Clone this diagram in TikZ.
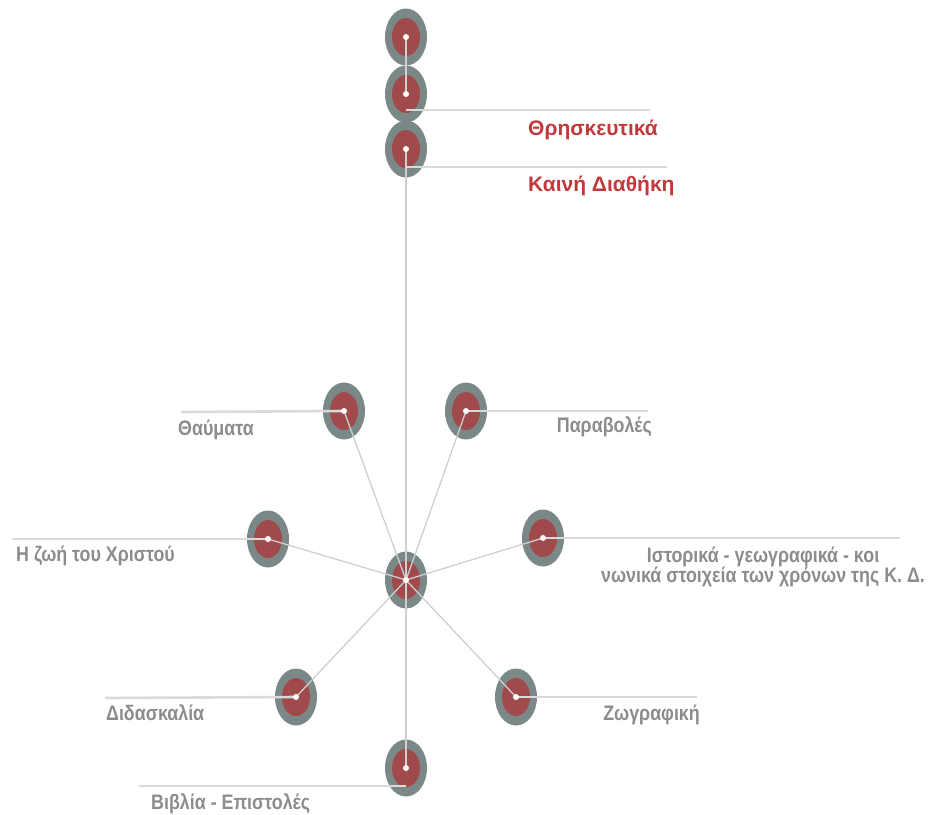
\documentclass[tikz,border=0pt]{standalone}
\usepackage{fontspec}
\setmainfont{Liberation Sans}
\newfontfamily\narrowfont[FakeStretch=0.85]{Liberation Sans}
\usetikzlibrary{shapes.geometric}
\definecolor{ringgray}{HTML}{7A8888}
\definecolor{innerred}{HTML}{A04A4C}
\definecolor{titlered}{HTML}{C2393C}
\definecolor{labgray}{HTML}{8C8C8C}
\definecolor{linegray}{HTML}{DADADA}
\definecolor{spokegray}{HTML}{CFCFCF}
\tikzset{
  ring/.style={ellipse, fill=ringgray, minimum width=42pt, minimum height=57pt, inner sep=0pt,
    path picture={\fill[innerred] (path picture bounding box.center) ellipse [x radius=14pt, y radius=19pt];}},
  spoke/.style={draw=spokegray, line width=1.3pt},
  hline/.style={draw=linegray, line width=2.6pt},
  dot/.style={fill=white},
  titlelab/.style={font=\bfseries\fontsize{21}{24}\selectfont, text=titlered, inner sep=0pt},
  graylab/.style={font=\narrowfont\bfseries\fontsize{21}{20}\selectfont, text=labgray, inner sep=0pt}
}
\begin{document}
\begin{tikzpicture}[x=1pt,y=-1pt]
\useasboundingbox (0,0) rectangle (928,814);
% nodes
\node[ring] (t1) at (406,37) {};
\node[ring] (t2) at (406,94) {};
\node[ring] (t3) at (406,149) {};
\node[ring] (th) at (344,411) {};
\node[ring] (pa) at (466,411) {};
\node[ring] (zo) at (268,539) {};
\node[ring] (is) at (543,538) {};
\node[ring] (c)  at (406,580) {};
\node[ring] (di) at (296,697) {};
\node[ring] (zg) at (516,697) {};
\node[ring] (bi) at (406,768) {};
% label line ends
\coordinate (e2) at (650,110);
\coordinate (s2) at (406,110);
\coordinate (e3) at (667,167);
\coordinate (s3) at (406,167);
\coordinate (eth) at (181,412);
\coordinate (epa) at (648,411);
\coordinate (ezo) at (12,539);
\coordinate (eis) at (900,538);
\coordinate (edi) at (105,698);
\coordinate (ezg) at (697,697);
\coordinate (ebi) at (139,786);
\coordinate (sbi) at (406,786);
% connectors
\draw[spoke] (t1.center) -- (t2.center);
\draw[spoke] (t3.center) -- (c.center) -- (bi.center);
\foreach \n in {th,pa,zo,is,di,zg}{\draw[spoke] (c.center) -- (\n.center);}
\draw[hline] (s2) -- (e2);
\draw[hline] (s3) -- (e3);
\draw[hline] (th.center) -- (eth);
\draw[hline] (pa.center) -- (epa);
\draw[hline] (zo.center) -- (ezo);
\draw[hline] (is.center) -- (eis);
\draw[hline] (di.center) -- (edi);
\draw[hline] (zg.center) -- (ezg);
\draw[hline] (sbi) -- (ebi);
\foreach \n in {t1,t2,t3,th,pa,zo,is,c,di,zg,bi}{\fill[dot] (\n.center) circle (3pt);}
% labels
\node[titlelab, anchor=base west] (lt2) at (528,135.5) {Θρησκευτικά};
\node[titlelab, anchor=base west] (lt3) at (528,191) {Καινή Διαθήκη};
\node[graylab, anchor=base west] (lth) at (178,435) {Θαύματα};
\node[graylab, anchor=base east] (lpa) at (652,432) {Παραβολές};
\node[graylab, anchor=base west] (lzo) at (16,561.5) {Η ζωή του Χριστού};
\node[graylab, anchor=north, align=center] (lis) at (763,546.5) {Ιστορικά - γεωγραφικά - κοι\\νωνικά στοιχεία των χρόνων της Κ. Δ.};
\node[graylab, anchor=base west] (ldi) at (106,720) {Διδασκαλία};
\node[graylab, anchor=base east] (lzg) at (700,720) {Ζωγραφική};
\node[graylab, anchor=base west] (lbi) at (151,809) {Βιβλία - Επιστολές};
\end{tikzpicture}
\end{document}
